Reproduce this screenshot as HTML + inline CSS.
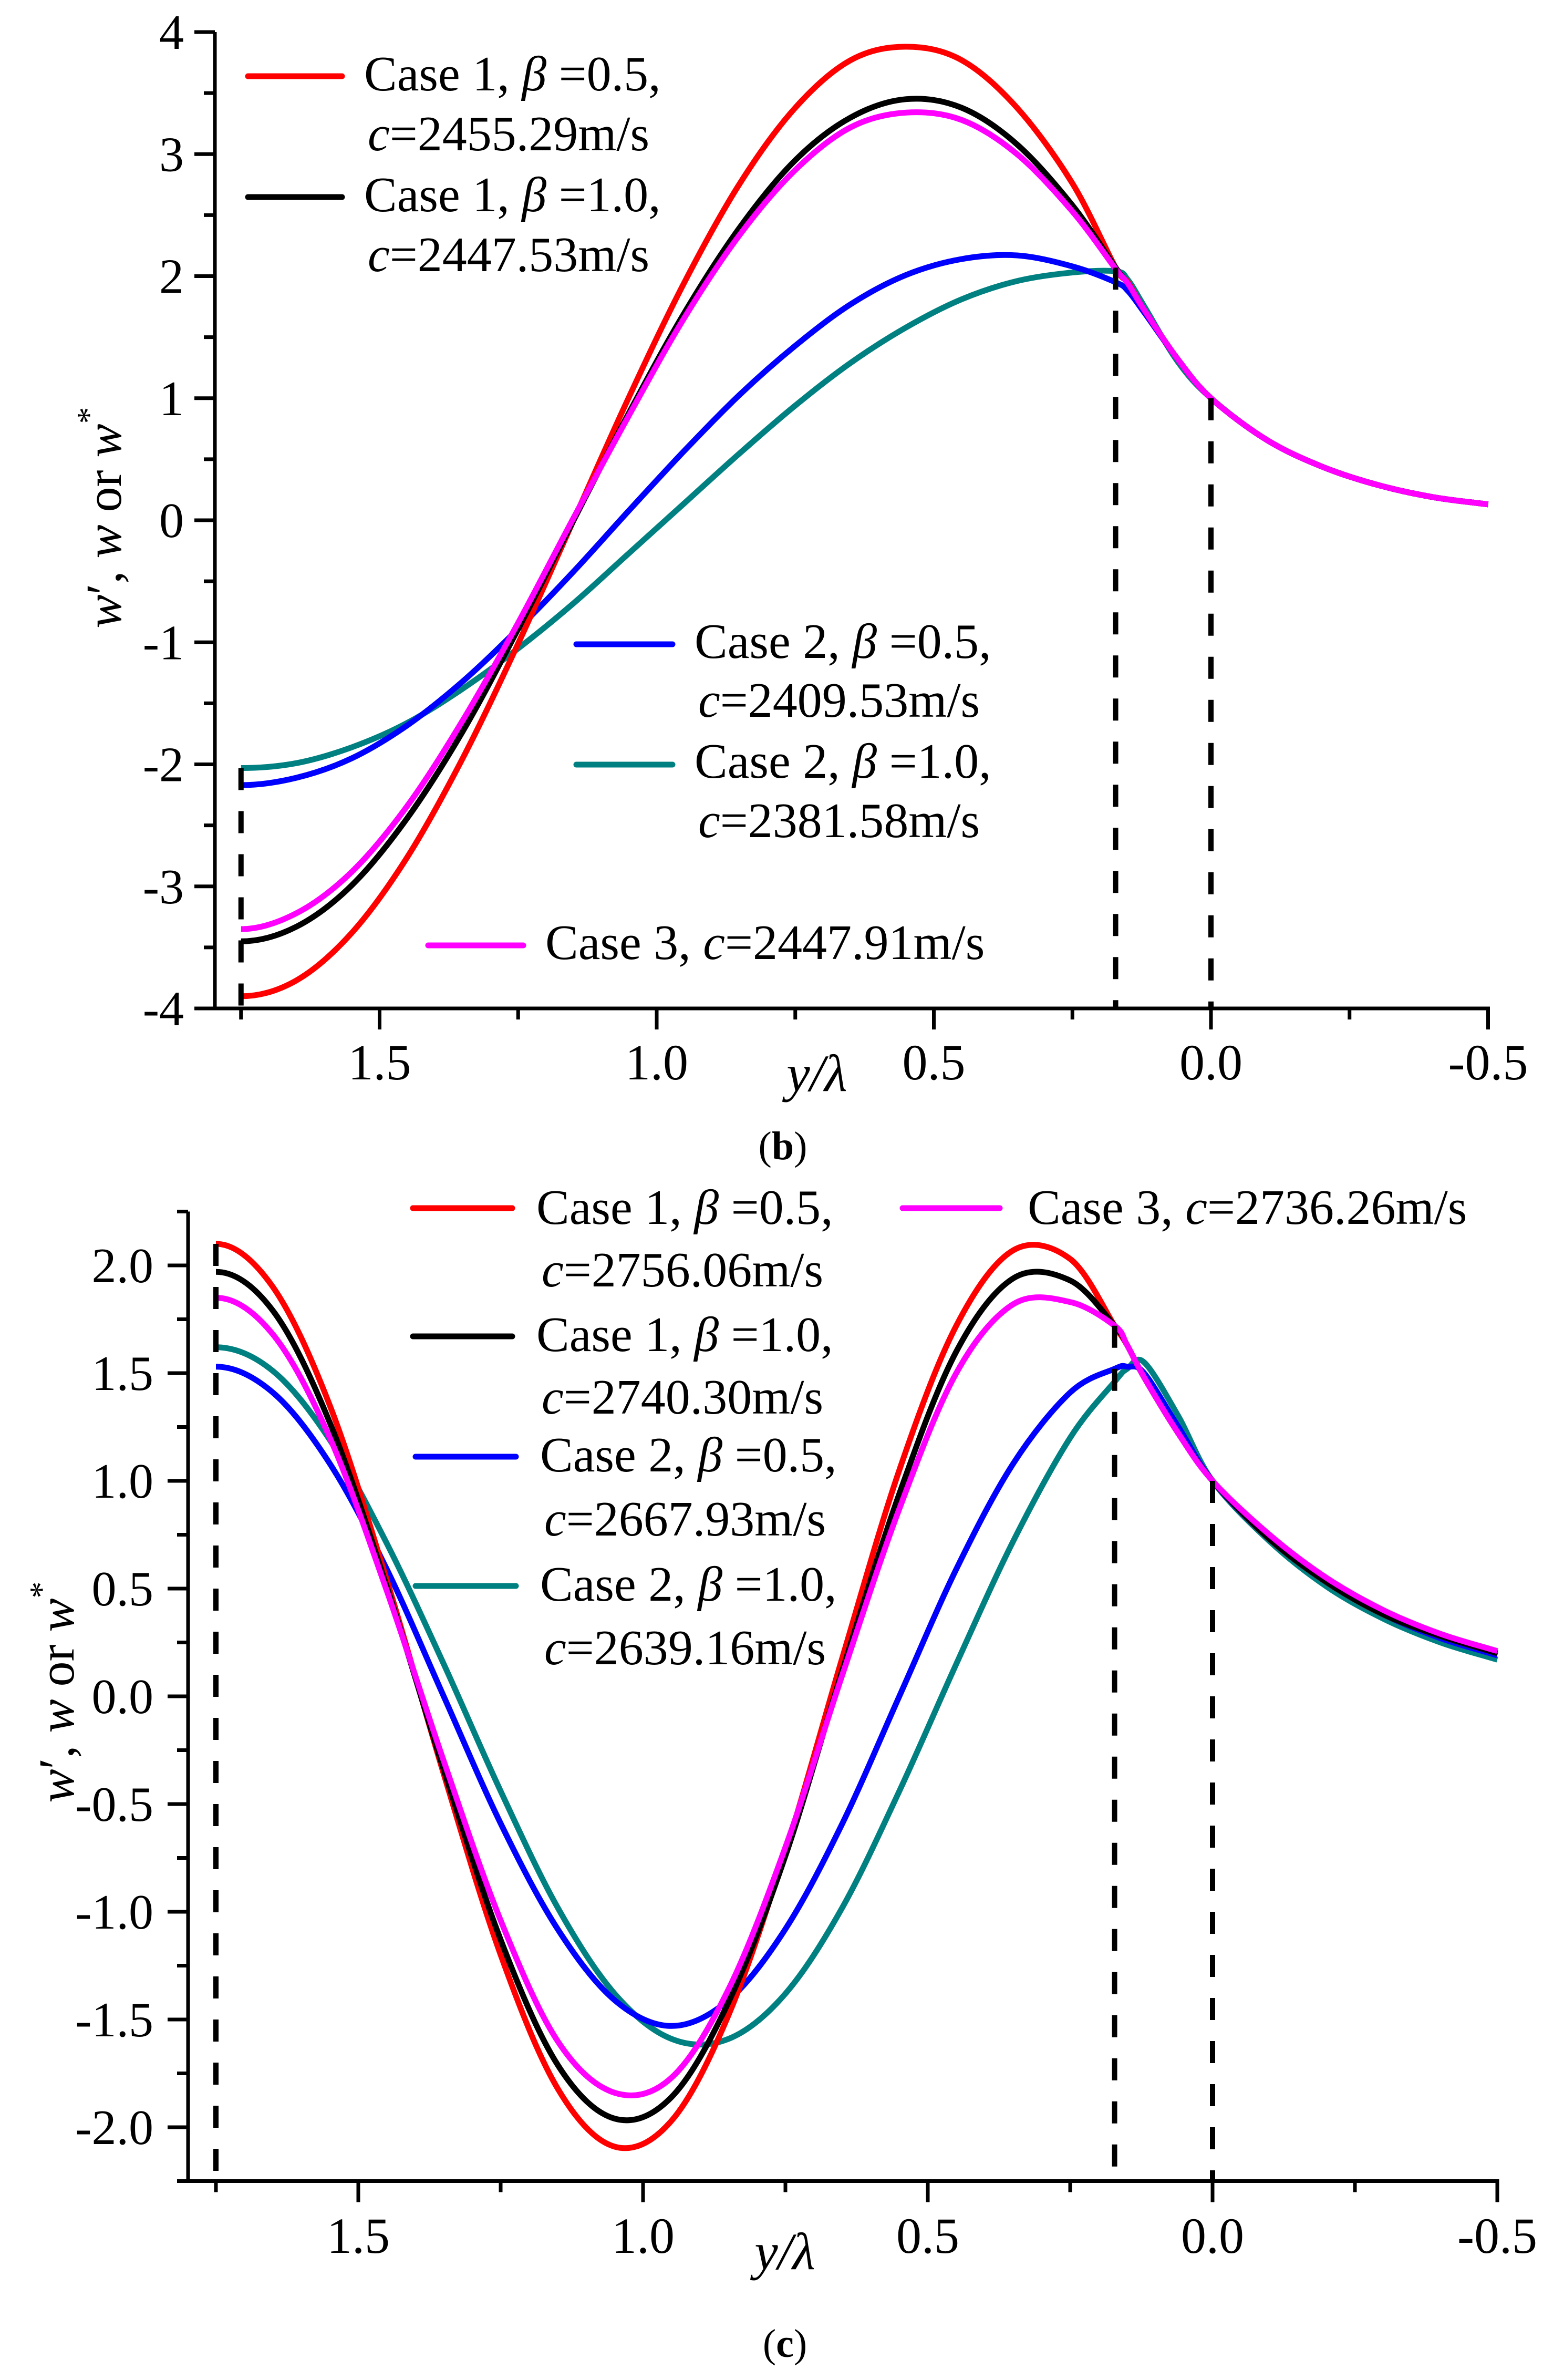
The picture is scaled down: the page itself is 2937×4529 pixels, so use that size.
<!DOCTYPE html>
<html><head><meta charset="utf-8"><style>
html,body{margin:0;padding:0;background:#fff;}
svg{display:block;font-family:"Liberation Serif",serif;}
</style></head><body>
<svg id="fig" width="2937" height="4529" viewBox="0 0 2937 4529" xmlns="http://www.w3.org/2000/svg" font-family="'Liberation Serif', serif">
<rect width="2937" height="4529" fill="#fff"/>
<g id="chartB"></g>
<g id="chartC"></g>

<!-- static text chart b -->
<g font-size="94" fill="#000">
  <text x="693" y="172">Case 1, <tspan font-style="italic">β</tspan> =0.5,</text>
  <text x="700" y="286"><tspan font-style="italic">c</tspan>=2455.29m/s</text>
  <text x="693" y="402">Case 1, <tspan font-style="italic">β</tspan> =1.0,</text>
  <text x="700" y="516"><tspan font-style="italic">c</tspan>=2447.53m/s</text>
  <text x="1322" y="1252">Case 2, <tspan font-style="italic">β</tspan> =0.5,</text>
  <text x="1329" y="1364"><tspan font-style="italic">c</tspan>=2409.53m/s</text>
  <text x="1322" y="1480">Case 2, <tspan font-style="italic">β</tspan> =1.0,</text>
  <text x="1329" y="1593"><tspan font-style="italic">c</tspan>=2381.58m/s</text>
  <text x="1038" y="1825">Case 3,  <tspan font-style="italic">c</tspan>=2447.91m/s</text>
  <line x1="472" y1="145" x2="651" y2="145" stroke="#ff0000" stroke-width="11" stroke-linecap="round"/>
  <line x1="472" y1="375" x2="651" y2="375" stroke="#000" stroke-width="11" stroke-linecap="round"/>
  <line x1="1097" y1="1226" x2="1280" y2="1226" stroke="#0000ff" stroke-width="11" stroke-linecap="round"/>
  <line x1="1097" y1="1455" x2="1280" y2="1455" stroke="#008080" stroke-width="11" stroke-linecap="round"/>
  <line x1="815" y1="1799" x2="996" y2="1799" stroke="#ff00ff" stroke-width="11" stroke-linecap="round"/>
</g>
<text x="1555" y="2076" font-size="100" text-anchor="middle" font-style="italic">y/λ</text>
<text x="1490" y="2206" font-size="76" text-anchor="middle">(<tspan font-weight="bold">b</tspan>)</text>
<text transform="translate(230,985) rotate(-90)" font-size="96" text-anchor="middle"><tspan font-style="italic">w</tspan>′, <tspan font-style="italic">w</tspan> or <tspan font-style="italic">w</tspan><tspan dy="-40" font-size="64">*</tspan></text>

<!-- static text chart c -->
<g font-size="94" fill="#000">
  <text x="1021" y="2329">Case 1, <tspan font-style="italic">β</tspan> =0.5,</text>
  <text x="1031" y="2448"><tspan font-style="italic">c</tspan>=2756.06m/s</text>
  <text x="1021" y="2571">Case 1, <tspan font-style="italic">β</tspan> =1.0,</text>
  <text x="1031" y="2690"><tspan font-style="italic">c</tspan>=2740.30m/s</text>
  <text x="1028" y="2800">Case 2, <tspan font-style="italic">β</tspan> =0.5,</text>
  <text x="1036" y="2922"><tspan font-style="italic">c</tspan>=2667.93m/s</text>
  <text x="1028" y="3046">Case 2, <tspan font-style="italic">β</tspan> =1.0,</text>
  <text x="1036" y="3167"><tspan font-style="italic">c</tspan>=2639.16m/s</text>
  <text x="1956" y="2329">Case 3,  <tspan font-style="italic">c</tspan>=2736.26m/s</text>
  <line x1="786" y1="2299" x2="975" y2="2299" stroke="#ff0000" stroke-width="11" stroke-linecap="round"/>
  <line x1="786" y1="2543" x2="975" y2="2543" stroke="#000" stroke-width="11" stroke-linecap="round"/>
  <line x1="791" y1="2772" x2="982" y2="2772" stroke="#0000ff" stroke-width="11" stroke-linecap="round"/>
  <line x1="791" y1="3018" x2="982" y2="3018" stroke="#008080" stroke-width="11" stroke-linecap="round"/>
  <line x1="1718" y1="2299" x2="1903" y2="2299" stroke="#ff00ff" stroke-width="11" stroke-linecap="round"/>
</g>
<text x="1494" y="4318" font-size="100" text-anchor="middle" font-style="italic">y/λ</text>
<text x="1494" y="4485" font-size="76" text-anchor="middle">(<tspan font-weight="bold">c</tspan>)</text>
<text transform="translate(140,3220) rotate(-90)" font-size="96" text-anchor="middle"><tspan font-style="italic">w</tspan>′, <tspan font-style="italic">w</tspan> or <tspan font-style="italic">w</tspan><tspan dy="-40" font-size="64">*</tspan></text>
</svg>
<script>
// ---- shared x samples (y/lambda) ----
const xSamples = [1.75,1.65,1.55,1.45,1.35,1.25,1.15,1.05,0.95,0.85,0.75,0.65,0.55,0.45,0.35,0.25,0.172,0.15,0.12,0.06,0,-0.1,-0.2,-0.3,-0.4,-0.5];
// ---- chart (b) series ----
const bRed     = [-3.90,-3.77,-3.38,-2.76,-1.95,-1.01,0,1.01,1.95,2.76,3.38,3.77,3.88,3.77,3.38,2.76,2.07,1.95,1.72,1.32,1.0,0.66,0.44,0.29,0.19,0.13];
const bBlack   = [-3.45,-3.33,-2.99,-2.44,-1.73,-0.89,0,0.88,1.70,2.40,2.95,3.30,3.45,3.38,3.08,2.58,2.07,1.94,1.72,1.32,1.0,0.66,0.44,0.29,0.19,0.13];
const bMagenta = [-3.35,-3.22,-2.88,-2.34,-1.64,-0.84,0.02,0.86,1.66,2.34,2.87,3.22,3.34,3.28,3.00,2.53,2.06,1.94,1.72,1.32,1.0,0.66,0.44,0.29,0.19,0.13];
const bBlue    = [-2.17,-2.11,-1.95,-1.68,-1.32,-0.89,-0.42,0.08,0.57,1.03,1.43,1.77,2.01,2.14,2.17,2.08,1.95,1.88,1.70,1.32,1.0,0.66,0.44,0.29,0.19,0.13];
const bTeal    = [-2.03,-1.99,-1.86,-1.66,-1.38,-1.05,-0.68,-0.27,0.14,0.55,0.94,1.29,1.58,1.81,1.96,2.03,2.04,1.97,1.75,1.30,1.0,0.66,0.44,0.29,0.19,0.13];
const bYTicks  = [-4,-3,-2,-1,0,1,2,3,4];
const bYTickLabels = ["-4","-3","-2","-1","0","1","2","3","4"];
const bGuides  = [1.75,0.172,0];
const bGuideTop = [-2.03,2.07,1.0];
// ---- chart (c) series ----
const cRed     = [2.10,1.90,1.35,0.54,-0.36,-1.20,-1.82,-2.09,-1.97,-1.48,-0.72,0.18,1.05,1.72,2.07,2.03,1.72,1.63,1.48,1.22,1.0,0.73,0.53,0.38,0.28,0.2];
const cBlack   = [1.97,1.79,1.27,0.51,-0.34,-1.13,-1.71,-1.96,-1.86,-1.42,-0.74,0.12,0.94,1.60,1.94,1.93,1.72,1.63,1.48,1.22,1.0,0.73,0.53,0.38,0.28,0.2];
const cMagenta = [1.85,1.68,1.20,0.49,-0.30,-1.04,-1.60,-1.84,-1.77,-1.36,-0.70,0.10,0.87,1.50,1.82,1.83,1.72,1.63,1.48,1.22,1.0,0.75,0.55,0.40,0.29,0.21];
const cBlue    = [1.53,1.41,1.08,0.59,0,-0.59,-1.08,-1.41,-1.53,-1.41,-1.08,-0.59,0,0.59,1.08,1.41,1.52,1.53,1.50,1.25,1.0,0.73,0.53,0.38,0.27,0.19];
const cTeal    = [1.62,1.51,1.19,0.71,0.15,-0.44,-0.98,-1.38,-1.59,-1.59,-1.38,-0.98,-0.44,0.15,0.72,1.20,1.46,1.52,1.55,1.30,1.0,0.72,0.51,0.36,0.25,0.17];
const cYTicks  = [-2.0,-1.5,-1.0,-0.5,0,0.5,1.0,1.5,2.0];
const cYTickLabels = ["-2.0","-1.5","-1.0","-0.5","0.0","0.5","1.0","1.5","2.0"];
const cGuides  = [1.75,0.172,0];
const cGuideTop = [2.10,1.72,1.0];
// ---- x ticks ----
const xMajorTicks = [1.5,1.0,0.5,0.0,-0.5];
const xMajorLabels = ["1.5","1.0","0.5","0.0","-0.5"];
const xMinorTicks = [1.75,1.25,0.75,0.25,-0.25];

const NS = "http://www.w3.org/2000/svg";
function mk(tag, attrs, parent){ const e=document.createElementNS(NS,tag); for(const k in attrs) e.setAttribute(k,attrs[k]); parent.appendChild(e); return e; }
function pathFrom(pts){
  const n=pts.length;
  // flat (horizontal) tangent at the start, linear extension at the end
  const first=[2*pts[0][0]-pts[1][0], pts[1][1]];
  const last=[2*pts[n-1][0]-pts[n-2][0], 2*pts[n-1][1]-pts[n-2][1]];
  let d="M"+pts[0][0].toFixed(1)+","+pts[0][1].toFixed(1);
  for(let i=0;i<n-1;i++){
    const p0=i===0?first:pts[i-1],p1=pts[i],p2=pts[i+1],p3=(i+2<n)?pts[i+2]:last;
    const c1=[p1[0]+(p2[0]-p0[0])/6,p1[1]+(p2[1]-p0[1])/6];
    const c2=[p2[0]-(p3[0]-p1[0])/6,p2[1]-(p3[1]-p1[1])/6];
    d+="C"+c1[0].toFixed(1)+","+c1[1].toFixed(1)+" "+c2[0].toFixed(1)+","+c2[1].toFixed(1)+" "+p2[0].toFixed(1)+","+p2[1].toFixed(1);
  }
  return d;
}
function drawChart(g, cfg){
  const sx = v => cfg.x0 + (cfg.xZero - v)*cfg.xPer;
  const sy = v => cfg.yZero - v*cfg.yPer;
  const axisY = sy(cfg.yMin), axisTop = sy(cfg.yMax);
  cfg.series.forEach(s=>{
    const pts = xSamples.map((x,i)=>[sx(x), sy(s.vals[i])]);
    const p = mk("path",{d:pathFrom(pts),fill:"none",stroke:s.color,"stroke-width":11,"stroke-linejoin":"round"},g);
    
    
  });
  cfg.guides.forEach((gx,i)=>{
    const l = mk("line",{x1:sx(gx),x2:sx(gx),y1:sy(cfg.guideTop[i]),y2:axisY,stroke:"#000","stroke-width":10,"stroke-dasharray":"42 40"},g);
    
    
  });
  const ya = mk("line",{x1:cfg.axisX,x2:cfg.axisX,y1:axisTop,y2:axisY+3.5,stroke:"#000","stroke-width":7},g);
  
  
  const xa = mk("line",{x1:cfg.axisX-3.5,x2:sx(-0.5)+3.5,y1:axisY,y2:axisY,stroke:"#000","stroke-width":7},g);
  
  
  cfg.yTicks.forEach((v,i)=>{
    const t = mk("line",{x1:cfg.axisX-39,x2:cfg.axisX,y1:sy(v),y2:sy(v),stroke:"#000","stroke-width":7},g);
    
    
    const lb = mk("text",{x:cfg.yLabelX,y:sy(v)+32,"font-size":94,"text-anchor":"end"},g);
    lb.textContent = cfg.yTickLabels[i];
    
    
    if(i<cfg.yTicks.length-1){
      const m=(v+cfg.yTicks[i+1])/2;
      const mt = mk("line",{x1:cfg.axisX-21,x2:cfg.axisX,y1:sy(m),y2:sy(m),stroke:"#000","stroke-width":7},g);
      
      
    }
  });
  if(cfg.yMax>cfg.yTicks[cfg.yTicks.length-1]){
    const mt = mk("line",{x1:cfg.axisX-21,x2:cfg.axisX,y1:axisTop,y2:axisTop,stroke:"#000","stroke-width":7},g);
    
    
    const mb = mk("line",{x1:cfg.axisX-21,x2:cfg.axisX,y1:axisY,y2:axisY,stroke:"#000","stroke-width":7},g);
    
    
  }
  xMajorTicks.forEach((v,i)=>{
    const t = mk("line",{x1:sx(v),x2:sx(v),y1:axisY,y2:axisY+40,stroke:"#000","stroke-width":7},g);
    
    
    const lb = mk("text",{x:sx(v),y:cfg.xLabelY,"font-size":96,"text-anchor":"middle"},g);
    lb.textContent = xMajorLabels[i];
    
    
  });
  xMinorTicks.forEach(v=>{
    const t = mk("line",{x1:sx(v),x2:sx(v),y1:axisY,y2:axisY+21,stroke:"#000","stroke-width":7},g);
    
    
  });
}
drawChart(document.getElementById("chartB"),{
  x0:2305, xZero:0, xPer:1055, yZero:990, yPer:232.25, yMin:-4, yMax:4,
  axisX:409, yLabelX:350, xLabelY:2054,
  yTicks:bYTicks, yTickLabels:bYTickLabels, guides:bGuides, guideTop:bGuideTop,
  series:[
    {name:"series-case2-beta10",color:"#008080",vals:bTeal},
    {name:"series-case2-beta05",color:"#0000ff",vals:bBlue},
    {name:"series-case1-beta05",color:"#ff0000",vals:bRed},
    {name:"series-case1-beta10",color:"#000000",vals:bBlack},
    {name:"series-case3",color:"#ff00ff",vals:bMagenta}
  ]
});
drawChart(document.getElementById("chartC"),{
  x0:2308, xZero:0, xPer:1084, yZero:3228, yPer:410, yMin:-2.25, yMax:2.25,
  axisX:358, yLabelX:292, xLabelY:4287,
  yTicks:cYTicks, yTickLabels:cYTickLabels, guides:cGuides, guideTop:cGuideTop,
  series:[
    {name:"series-case2-beta10",color:"#008080",vals:cTeal},
    {name:"series-case2-beta05",color:"#0000ff",vals:cBlue},
    {name:"series-case1-beta05",color:"#ff0000",vals:cRed},
    {name:"series-case1-beta10",color:"#000000",vals:cBlack},
    {name:"series-case3",color:"#ff00ff",vals:cMagenta}
  ]
});
</script>
</body></html>
